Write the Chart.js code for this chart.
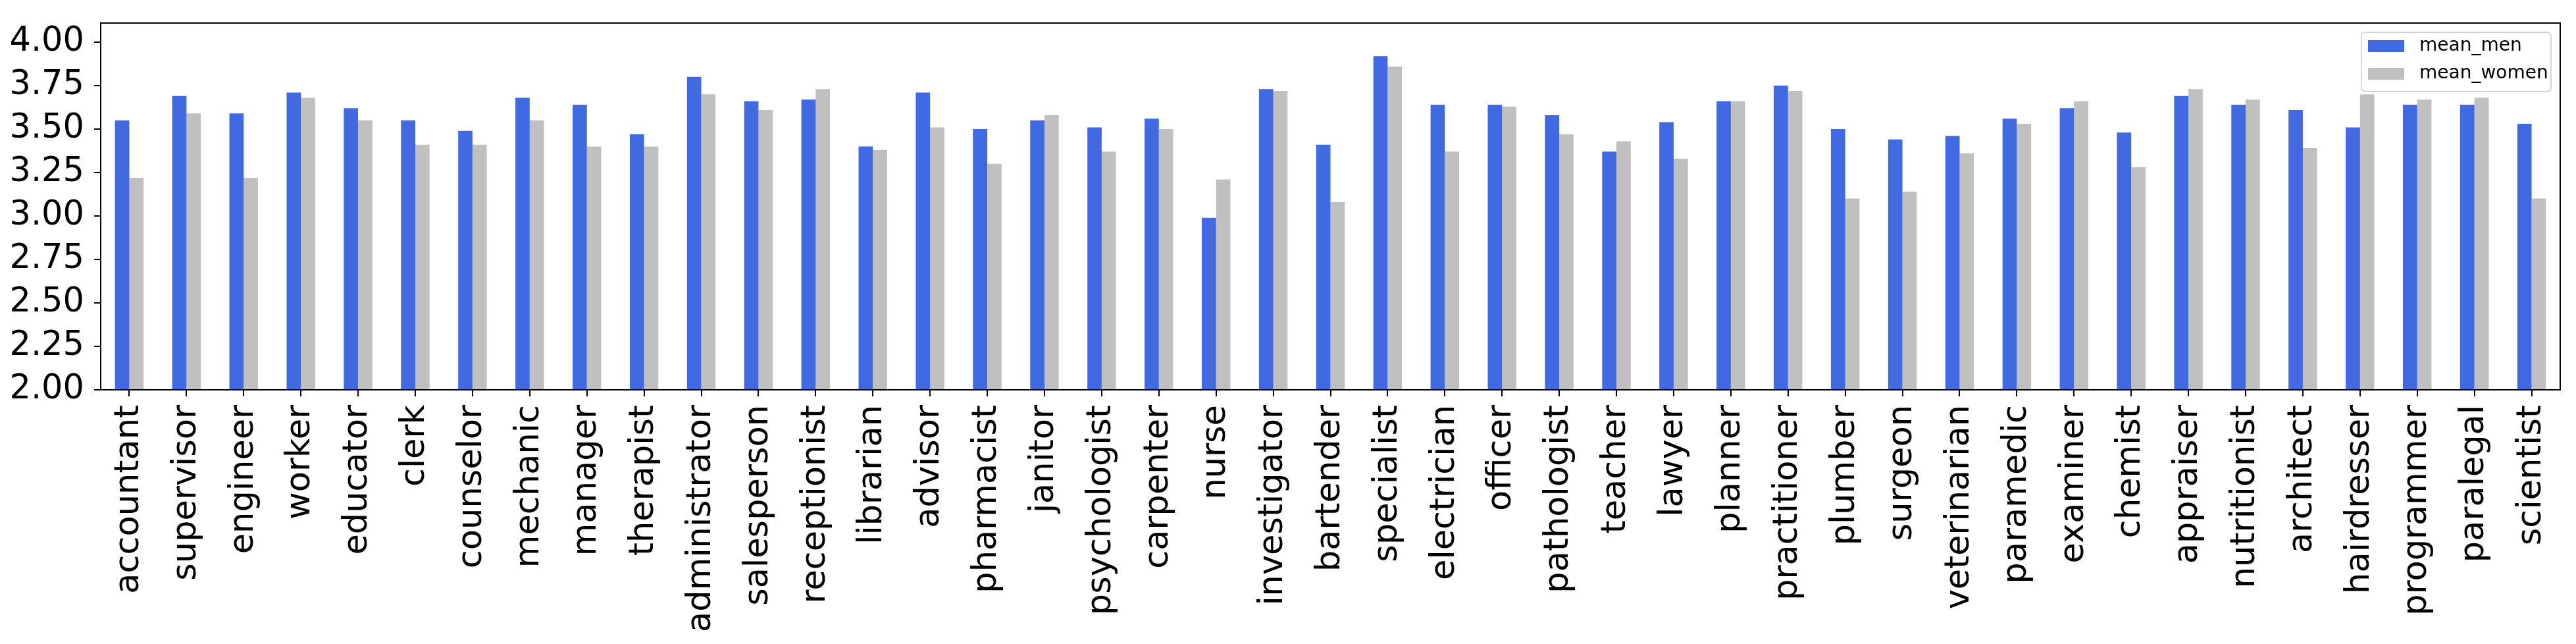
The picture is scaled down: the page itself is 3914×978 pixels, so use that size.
<!DOCTYPE html>
<html>
<head>
<meta charset="utf-8">
<script src="https://cdn.jsdelivr.net/npm/chart.js@4.4.1/dist/chart.umd.min.js"></script>
<style>
html,body{margin:0;padding:0;background:#fff;overflow:hidden;}
canvas{display:block;}
</style>
</head>
<body>
<canvas id="c" width="3914" height="978"></canvas>
<script>
const categories = ["accountant","supervisor","engineer","worker","educator","clerk","counselor","mechanic","manager","therapist","administrator","salesperson","receptionist","librarian","advisor","pharmacist","janitor","psychologist","carpenter","nurse","investigator","bartender","specialist","electrician","officer","pathologist","teacher","lawyer","planner","practitioner","plumber","surgeon","veterinarian","paramedic","examiner","chemist","appraiser","nutritionist","architect","hairdresser","programmer","paralegal","scientist"];
const meanMen = [3.55,3.69,3.59,3.71,3.62,3.55,3.49,3.68,3.64,3.47,3.80,3.66,3.67,3.40,3.71,3.50,3.55,3.51,3.56,2.99,3.73,3.41,3.92,3.64,3.64,3.58,3.37,3.54,3.66,3.75,3.50,3.44,3.46,3.56,3.62,3.48,3.69,3.64,3.61,3.51,3.64,3.64,3.53];
const meanWomen = [3.22,3.59,3.22,3.68,3.55,3.41,3.41,3.55,3.40,3.40,3.70,3.61,3.73,3.38,3.51,3.30,3.58,3.37,3.50,3.21,3.72,3.08,3.86,3.37,3.63,3.47,3.43,3.33,3.66,3.72,3.10,3.14,3.36,3.53,3.66,3.28,3.73,3.67,3.39,3.70,3.67,3.68,3.10];
const seriesLabels = ["mean_men","mean_women"];
const seriesColors = ["#4169E1","#C0C0C0"];
const yTicks = [2.00,2.25,2.50,2.75,3.00,3.25,3.50,3.75,4.00];
const yMin = 2.0;
const yMax = 4.11;

const FONT = "'DejaVu Sans', sans-serif";

const framePlugin = {
  id: 'frame',
  afterDatasetsDraw(chart) {
    const {ctx, chartArea: a} = chart;
    ctx.save();
    ctx.strokeStyle = '#000';
    ctx.lineWidth = 2;
    ctx.strokeRect(a.left, a.top, a.right - a.left, a.bottom - a.top);
    ctx.restore();
  }
};

const boxLegend = {
  id: 'boxLegend',
  afterDraw(chart) {
    const {ctx, chartArea: a} = chart;
    const ds = chart.data.datasets;
    const w = 288, h = 90;
    const x0 = a.right - 14 - w, y0 = a.top + 14;
    ctx.save();
    ctx.beginPath();
    ctx.roundRect(x0, y0, w, h, 6);
    ctx.fillStyle = 'rgba(255,255,255,0.8)';
    ctx.fill();
    ctx.strokeStyle = '#d4d4d4';
    ctx.lineWidth = 2;
    ctx.stroke();
    ctx.font = "28px 'DejaVu Sans'";
    ctx.textBaseline = 'middle';
    ctx.textAlign = 'left';
    ds.forEach((d, i) => {
      const cy = y0 + 21 + i * 42;
      ctx.fillStyle = d.backgroundColor;
      ctx.fillRect(x0 + 10, cy - 9, 55, 18);
      ctx.fillStyle = '#000';
      ctx.fillText(d.label, x0 + 88, cy);
    });
    ctx.restore();
  }
};

new Chart(document.getElementById('c'), {
  type: 'bar',
  data: {
    labels: categories,
    datasets: [
      {label: seriesLabels[0], data: meanMen, backgroundColor: seriesColors[0], borderWidth: 0, categoryPercentage: 0.5, barPercentage: 1.0},
      {label: seriesLabels[1], data: meanWomen, backgroundColor: seriesColors[1], borderWidth: 0, categoryPercentage: 0.5, barPercentage: 1.0}
    ]
  },
  options: {
    responsive: false,
    animation: false,
    devicePixelRatio: 1,
    layout: {padding: {top: 35, right: 24, left: 0, bottom: 0}},
    plugins: {legend: {display: false}, tooltip: {enabled: false}},
    scales: {
      x: {
        offset: true,
        grid: {offset: false, drawOnChartArea: false, drawTicks: true, tickLength: 10, color: '#000', lineWidth: 2},
        border: {display: true, color: '#000', width: 2},
        ticks: {autoSkip: false, maxRotation: 90, minRotation: 90, padding: 13, color: '#000', font: {family: FONT, size: 51}},
        afterFit(s) { s.height = 386; s.paddingLeft = 0; s.paddingRight = 0; }
      },
      y: {
        min: yMin,
        max: yMax,
        afterBuildTicks(s) { s.ticks = yTicks.map(v => ({value: v})); },
        grid: {drawOnChartArea: false, drawTicks: true, tickLength: 10, color: '#000', lineWidth: 2},
        border: {display: true, color: '#000', width: 2},
        ticks: {padding: 15, color: '#000', font: {family: FONT, size: 51}, callback: v => Number(v).toFixed(2)},
        afterFit(s) { s.width = 153; s.paddingTop = 0; s.paddingBottom = 0; }
      }
    }
  },
  plugins: [framePlugin, boxLegend]
});
</script>
</body>
</html>
